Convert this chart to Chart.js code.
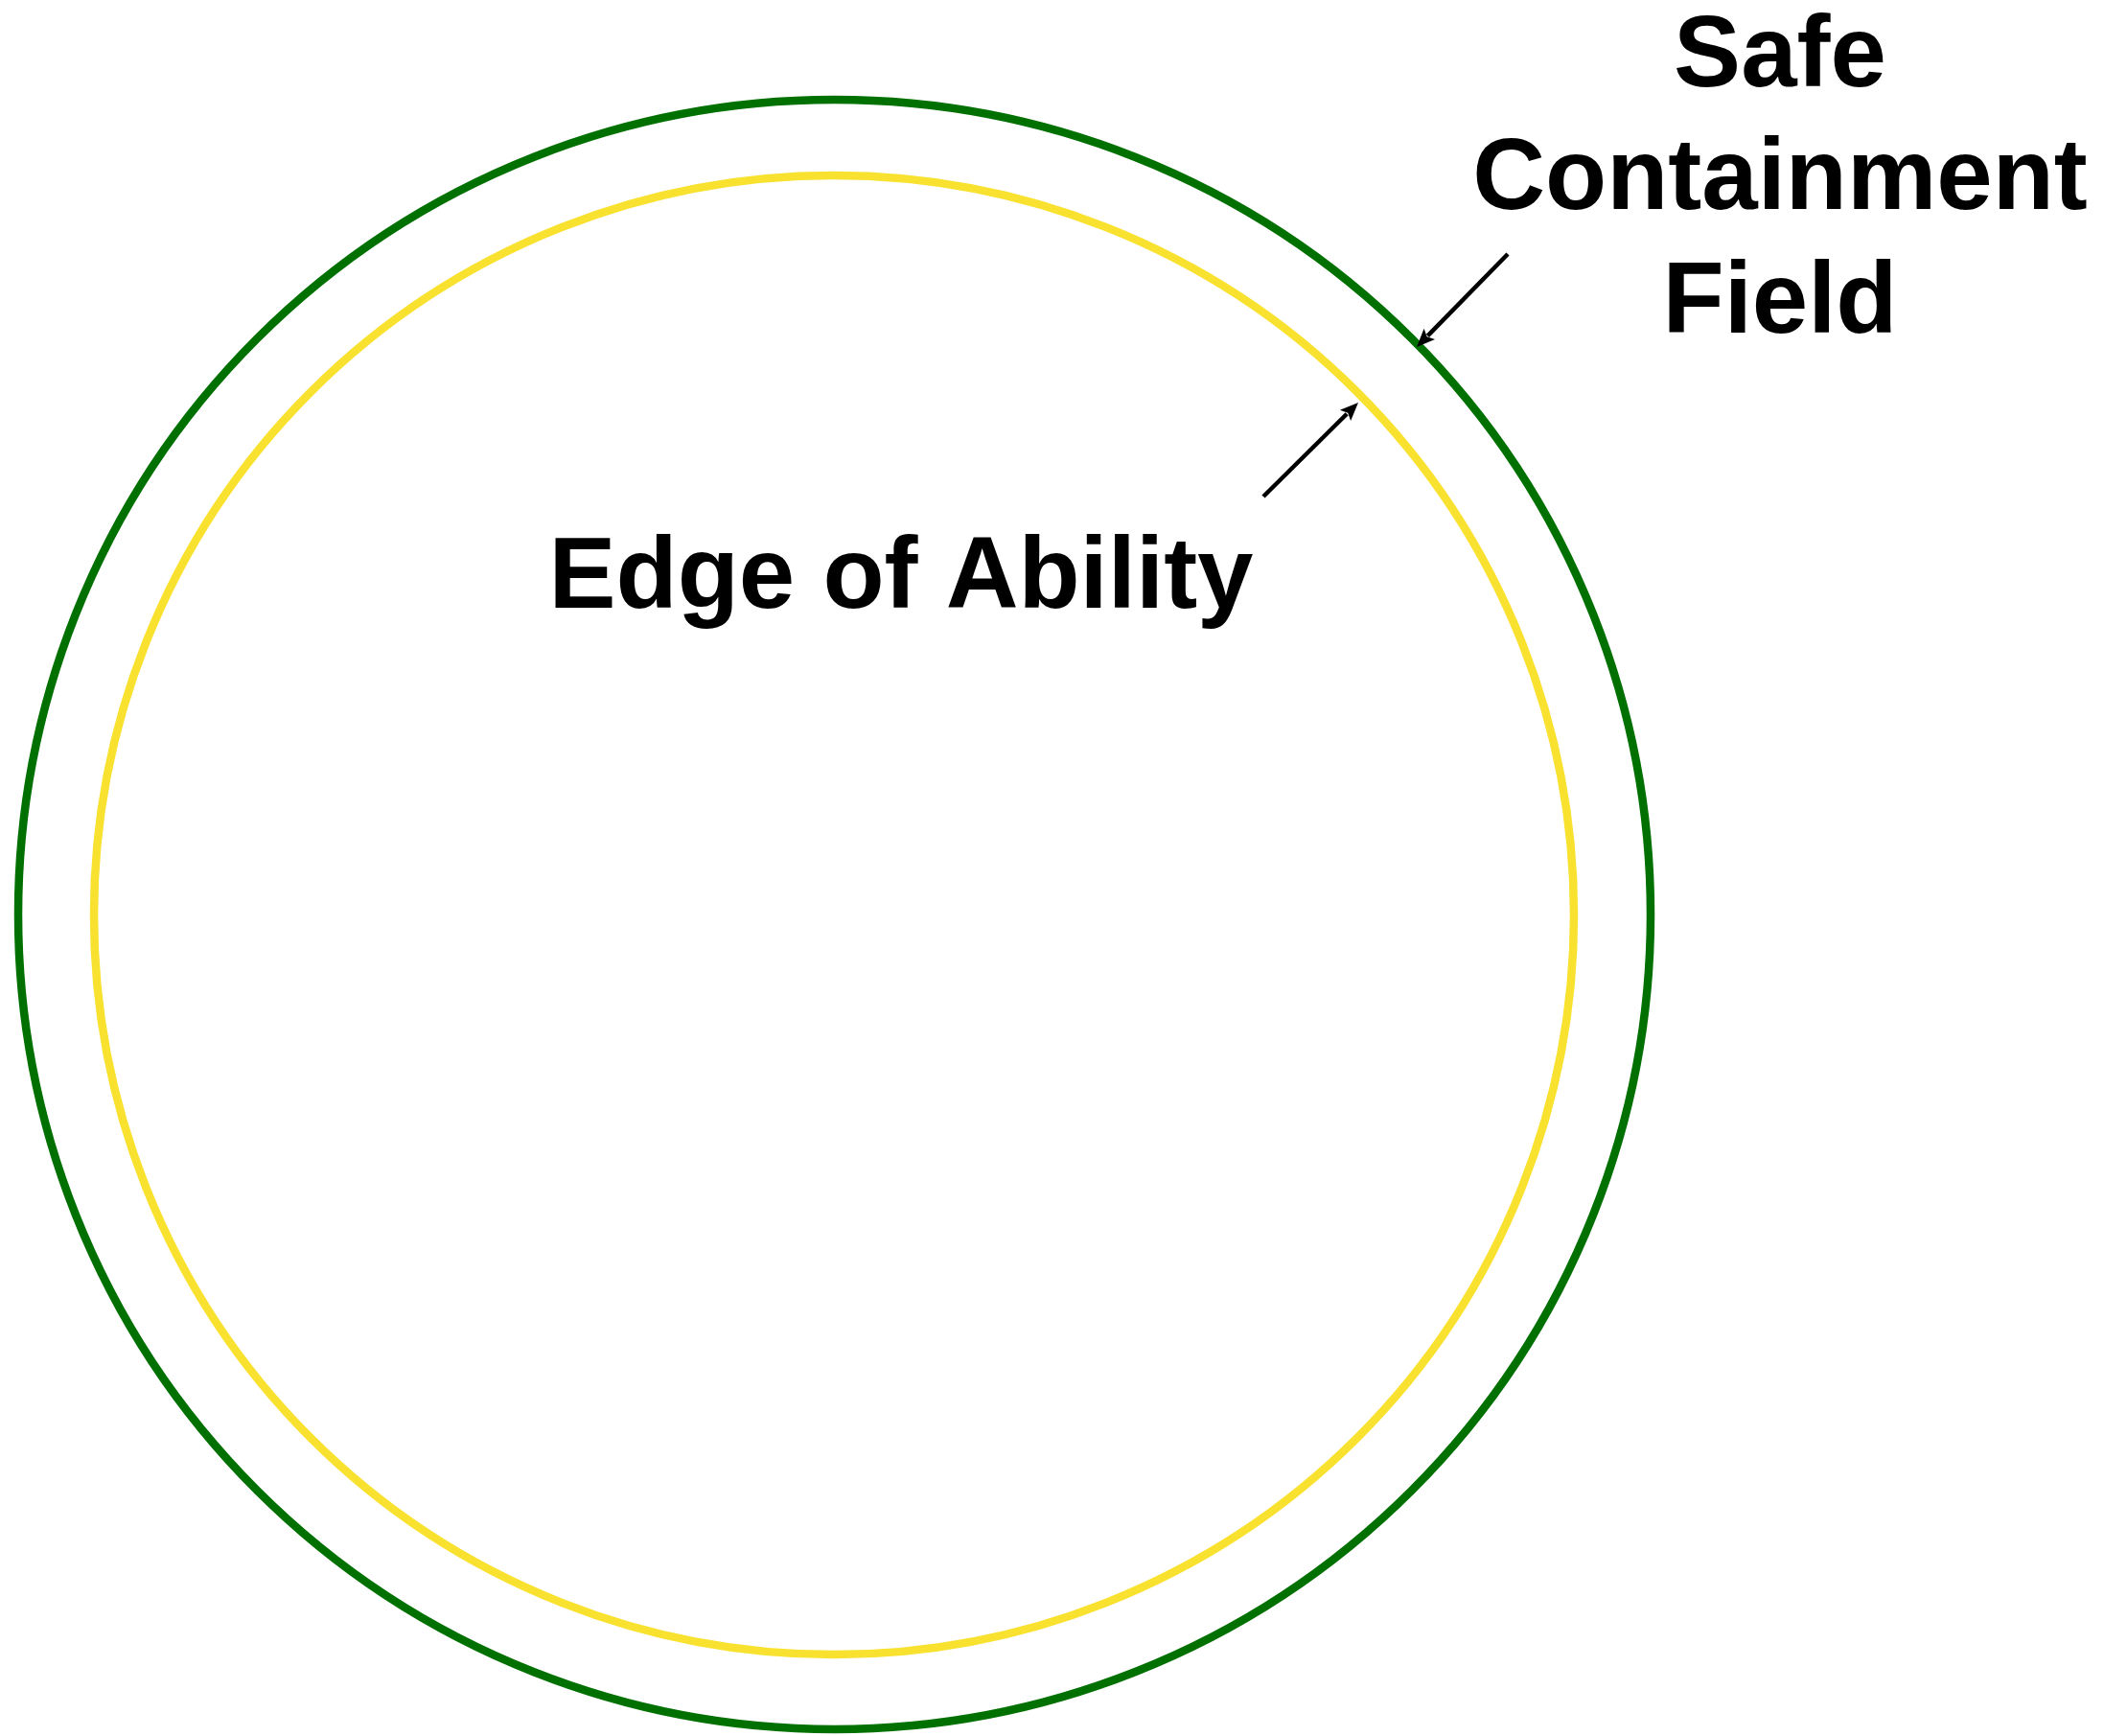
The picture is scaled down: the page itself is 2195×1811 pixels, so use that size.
<!DOCTYPE html>
<html>
<head>
<meta charset="utf-8">
<script src="https://cdn.jsdelivr.net/npm/chart.js"></script>
<style>
  html, body { margin: 0; padding: 0; background: #ffffff; }
  canvas { display: block; }
</style>
</head>
<body>
<canvas id="rings" width="2195" height="1811"></canvas>
<script>
    // Rings (outer field, inner edge), in chart units
    const ringNames = ['Safe Containment Field', 'Edge of Ability'];
    const ringCenterX = [870.5, 870];
    const ringCenterY = [954, 954.5];
    const ringRadiusX = [851.5, 772];
    const ringRadiusY = [850, 771.5];

    // Pointer arrows: tail -> tip
    const arrowFromX = [1573, 1318];
    const arrowFromY = [265, 518];
    const arrowToX = [1478, 1417];
    const arrowToY = [362, 420];

    // Labels (lines and baselines)
    const labelLines = [['Safe', 'Containment', 'Field'], ['Edge of Ability']];
    const labelX = [1857, 940];
    const labelBaselines = [[90, 218, 347], [634]];

    const ringColors = ['#007000', '#F9E130'];

    // Draws the rings, arrow heads and labels using the chart scales
    const ringPlugin = {
        id: 'ringPlugin',
        beforeDatasetsDraw(chart) {
            const ctx = chart.ctx;
            const xs = chart.scales.x;
            const ys = chart.scales.y;
            ringNames.forEach((name, i) => {
                const cx = xs.getPixelForValue(ringCenterX[i]);
                const cy = ys.getPixelForValue(ringCenterY[i]);
                const rx = Math.abs(xs.getPixelForValue(ringCenterX[i] + ringRadiusX[i]) - cx);
                const ry = Math.abs(ys.getPixelForValue(ringCenterY[i] + ringRadiusY[i]) - cy);
                ctx.save();
                ctx.beginPath();
                ctx.ellipse(cx, cy, rx, ry, 0, 0, Math.PI * 2);
                ctx.strokeStyle = ringColors[i];
                ctx.lineWidth = 8.5;
                ctx.stroke();
                ctx.restore();
            });
        },
        afterDatasetsDraw(chart) {
            const ctx = chart.ctx;
            const xs = chart.scales.x;
            const ys = chart.scales.y;

            // arrow heads
            arrowToX.forEach((tx, i) => {
                const x1 = xs.getPixelForValue(arrowFromX[i]);
                const y1 = ys.getPixelForValue(arrowFromY[i]);
                const x2 = xs.getPixelForValue(tx);
                const y2 = ys.getPixelForValue(arrowToY[i]);
                const ang = Math.atan2(y2 - y1, x2 - x1);
                const len = 19, half = 8;
                ctx.save();
                ctx.translate(x2, y2);
                ctx.rotate(ang);
                ctx.beginPath();
                ctx.moveTo(0, 0);
                ctx.lineTo(-len, -half);
                ctx.lineTo(-len * 0.8, 0);
                ctx.lineTo(-len, half);
                ctx.closePath();
                ctx.fillStyle = '#000000';
                ctx.fill();
                ctx.restore();
            });

            // labels
            ctx.save();
            ctx.fillStyle = '#000000';
            ctx.font = 'bold 105px "Liberation Sans", Arial, sans-serif';
            ctx.textAlign = 'center';
            ctx.textBaseline = 'alphabetic';
            labelLines.forEach((lines, i) => {
                lines.forEach((line, j) => {
                    ctx.fillText(line, xs.getPixelForValue(labelX[i]), ys.getPixelForValue(labelBaselines[i][j]));
                });
            });
            ctx.restore();
        }
    };

    // arrow shafts as simple two-point line datasets
    const shaftSets = arrowFromX.map((fx, i) => ({
        label: 'arrow ' + (i + 1),
        data: [
            { x: fx, y: arrowFromY[i] },
            { x: arrowToX[i] + (fx - arrowToX[i]) * 0.12, y: arrowToY[i] + (arrowFromY[i] - arrowToY[i]) * 0.12 }
        ],
        showLine: true,
        borderColor: '#000000',
        borderWidth: 4.5,
        pointRadius: 0,
        fill: false
    }));

    new Chart(document.getElementById('rings').getContext('2d'), {
        type: 'scatter',
        data: { datasets: shaftSets },
        options: {
            responsive: false,
            animation: false,
            devicePixelRatio: 1,
            layout: { padding: 0 },
            plugins: {
                legend: { display: false },
                tooltip: { enabled: false }
            },
            scales: {
                x: { type: 'linear', min: 0, max: 2195, display: false },
                y: { type: 'linear', min: 0, max: 1811, reverse: true, display: false }
            }
        },
        plugins: [ringPlugin]
    });
</script>
</body>
</html>
